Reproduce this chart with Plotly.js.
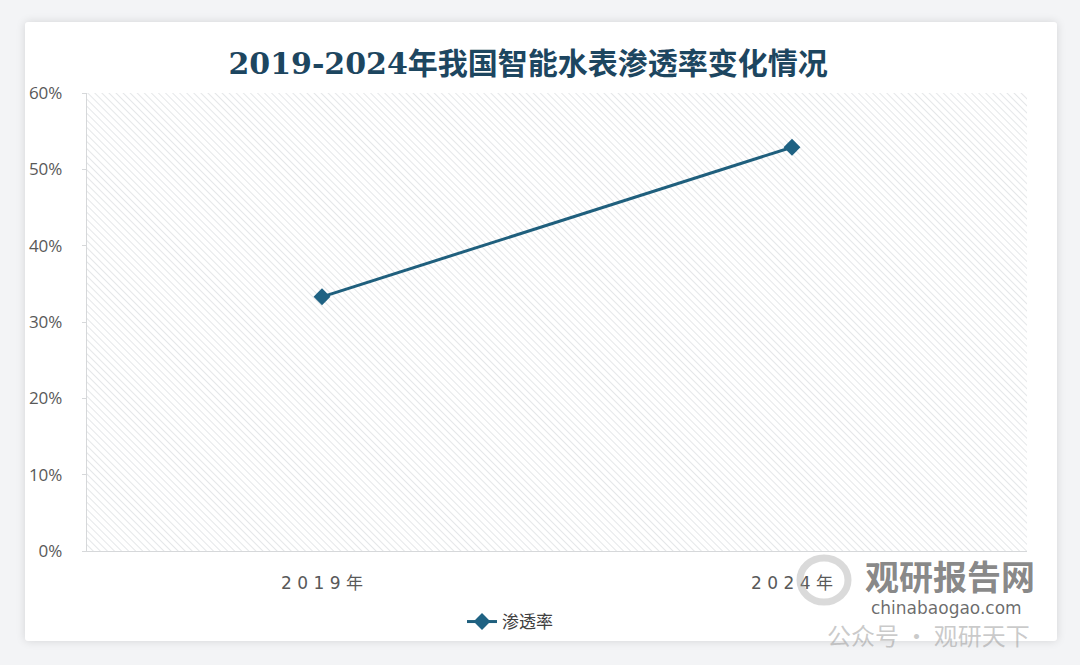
<!DOCTYPE html>
<html>
<head>
<meta charset="utf-8">
<script src="https://cdn.plot.ly/plotly-3.0.1.min.js"></script>
<style>
  html, body { margin: 0; padding: 0; background: #f3f4f6; width: 1080px; height: 665px; overflow: hidden; }
  #card { position: absolute; left: 25px; top: 22px; width: 1032px; height: 619px; background: #ffffff;
          border-radius: 3px; box-shadow: 0 0 10px rgba(0,0,0,0.13); }
  #chart { position: absolute; left: 0; top: 0; width: 1080px; height: 665px; }
</style>
</head>
<body>
<div id="card"></div>
<div id="chart"></div>
<script>
// ---- data ----
const categories = ['2019年', '2024年'];
const tickLabels = ['2 0 1 9 年', '2 0 2 4 年'];
const penetration = [0.333, 0.529];
const seriesName = '渗透率';
const yTickVals = [0, 0.1, 0.2, 0.3, 0.4, 0.5, 0.6];
const titleText = '2019-2024年我国智能水表渗透率变化情况';

// ---- hatch background for plot area ----
const hatchSvg = "<svg xmlns='http://www.w3.org/2000/svg' width='940' height='458'>" +
  "<defs><pattern id='p' width='5' height='5' patternUnits='userSpaceOnUse' patternTransform='rotate(-45)'>" +
  "<line x1='0' y1='0' x2='0' y2='5' stroke='#dfe1e3' stroke-width='1.6'/></pattern></defs>" +
  "<rect width='100%' height='100%' fill='url(#p)'/></svg>";
const hatchUri = 'data:image/svg+xml;charset=utf-8,' + encodeURIComponent(hatchSvg);

const L = 87, R = 1027, T = 93, B = 551;
const px = v => (v - L) / (R - L);
const py = v => (B - v) / (B - T);

const trace = {
  type: 'scatter',
  mode: 'lines+markers',
  name: seriesName,
  x: categories,
  y: penetration,
  line: { color: '#1f5f7d', width: 3 },
  marker: { symbol: 'diamond', size: 13, color: '#1f6283' },
  hoverinfo: 'x+y'
};

const layout = {
  width: 1080,
  height: 665,
  margin: { l: L, r: 1080 - R, t: T, b: 665 - B, pad: 0 },
  paper_bgcolor: 'rgba(0,0,0,0)',
  plot_bgcolor: 'rgba(0,0,0,0)',
  title: {
    text: '<b>' + titleText + '</b>',
    x: 0.489, xanchor: 'center',
    y: 0.905, yanchor: 'middle', yref: 'container',
    font: { family: '"DejaVu Serif", "Noto Sans CJK SC", serif', size: 30, color: '#1d4660' }
  },
  xaxis: {
    type: 'category',
    range: [-0.5, 1.5],
    tickvals: categories,
    ticktext: tickLabels,
    showgrid: false,
    zeroline: false,
    showline: true,
    linecolor: '#d6d8da',
    linewidth: 1.2,
    ticks: '',
    ticklabelstandoff: 16,
    tickfont: { family: '"DejaVu Sans", "Noto Sans CJK SC", sans-serif', size: 17, color: '#595959' }
  },
  yaxis: {
    range: [0, 0.6],
    tickvals: yTickVals,
    tickformat: '.0%',
    showgrid: false,
    zeroline: false,
    showline: true,
    linecolor: '#d6d8da',
    linewidth: 1.2,
    ticks: 'outside',
    ticklen: 4,
    tickcolor: '#d6d8da',
    ticklabelstandoff: 16,
    tickfont: { family: '"Open Sans", "DejaVu Sans", sans-serif', size: 17, color: '#595959' }
  },
  showlegend: true,
  legend: {
    orientation: 'h',
    x: px(510), xanchor: 'center',
    y: py(622), yanchor: 'middle',
    font: { family: '"Noto Sans CJK SC", sans-serif', size: 17, color: '#404040' },
    bgcolor: 'rgba(0,0,0,0)'
  },
  images: [{
    source: hatchUri,
    xref: 'paper', yref: 'paper',
    x: 0, y: 1, sizex: 1, sizey: 1,
    xanchor: 'left', yanchor: 'top',
    sizing: 'stretch', layer: 'below'
  }],
  shapes: [{
    type: 'circle', xref: 'paper', yref: 'paper',
    x0: px(800), x1: px(848), y0: py(602), y1: py(558),
    line: { color: 'rgba(150,150,150,0.35)', width: 7 },
    fillcolor: 'rgba(0,0,0,0)'
  }],
  annotations: [
    {
      text: '<b>观研报告网</b>', xref: 'paper', yref: 'paper',
      x: px(950), y: py(575), xanchor: 'center', yanchor: 'middle', showarrow: false,
      font: { family: '"Noto Sans CJK SC", sans-serif', size: 34, color: 'rgba(105,105,105,0.8)' }
    },
    {
      text: '公众号 · 观研天下', xref: 'paper', yref: 'paper',
      x: px(928), y: py(634), xanchor: 'center', yanchor: 'middle', showarrow: false,
      font: { family: '"Noto Sans CJK SC", sans-serif', size: 24, color: 'rgba(150,150,150,0.5)' }
    },
    {
      text: 'chinabaogao.com', xref: 'paper', yref: 'paper',
      x: px(946), y: py(608), xanchor: 'center', yanchor: 'middle', showarrow: false,
      font: { family: '"DejaVu Sans", sans-serif', size: 17, color: 'rgba(60,60,60,0.75)' }
    }
  ]
};

Plotly.newPlot('chart', [trace], layout, { displayModeBar: false, staticPlot: true });
</script>
</body>
</html>
